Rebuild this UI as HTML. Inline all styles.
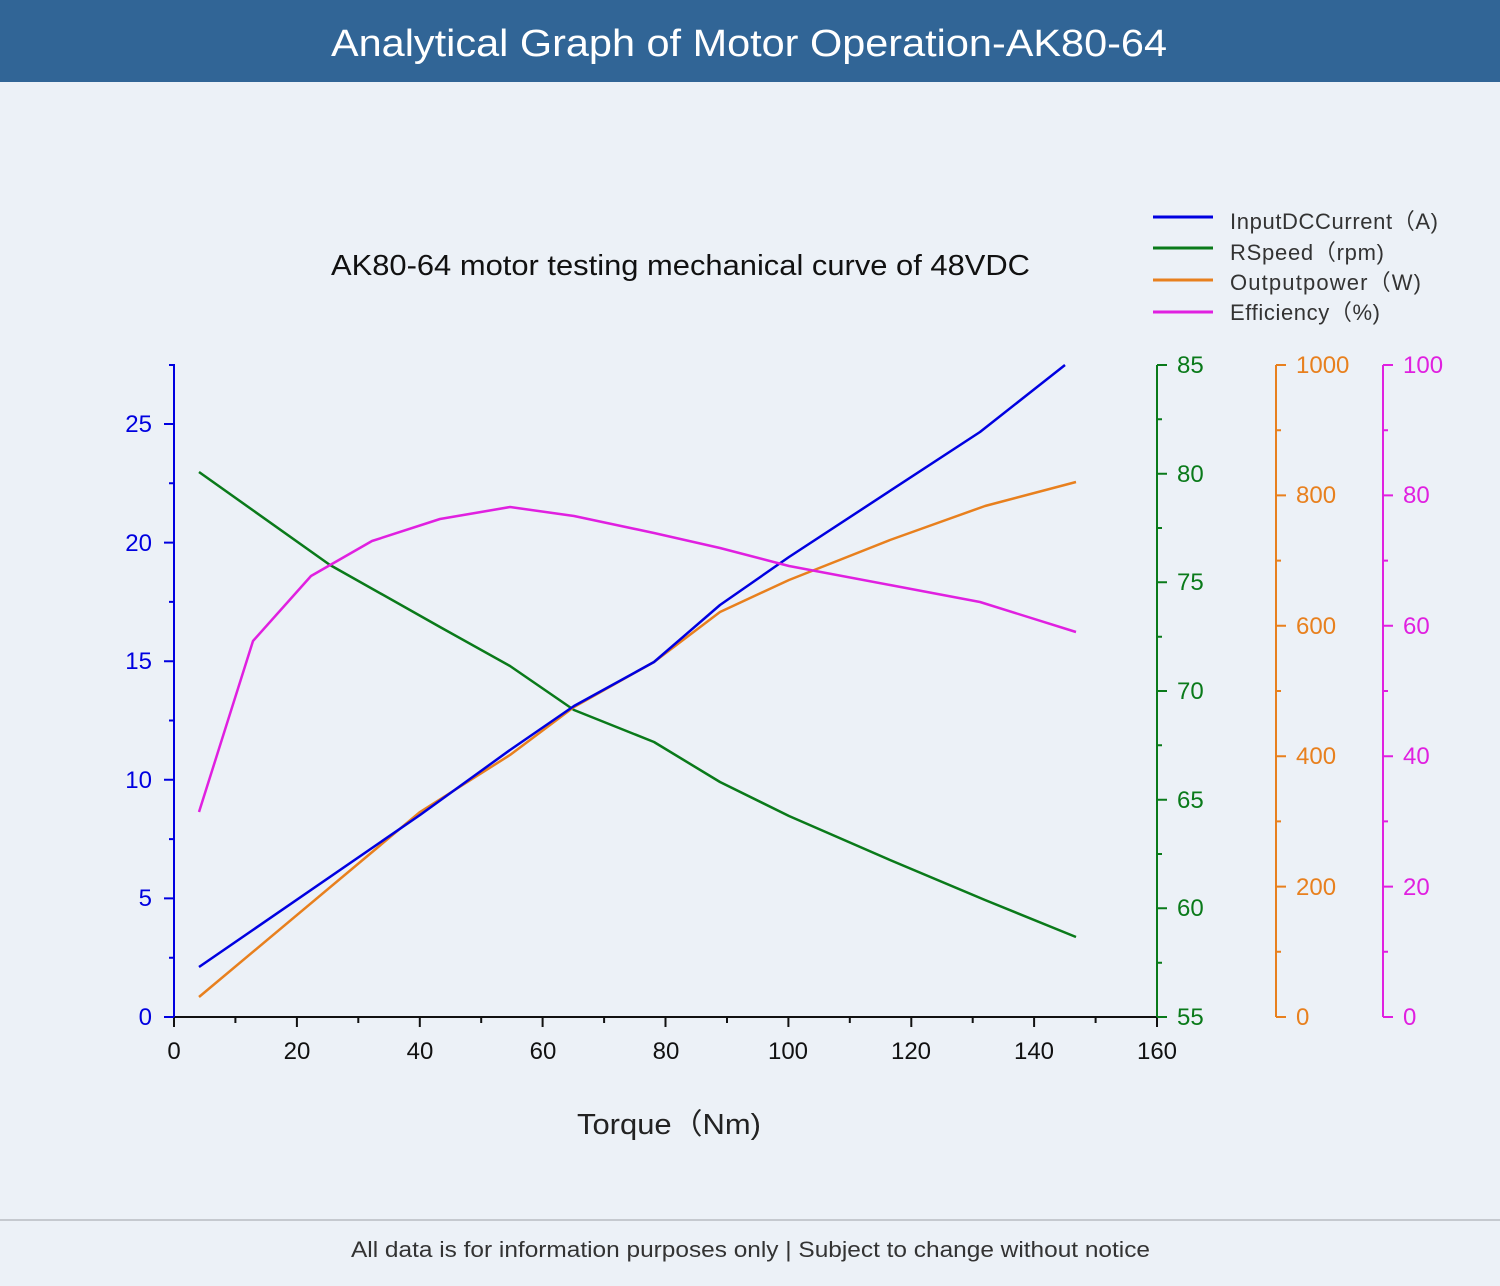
<!DOCTYPE html>
<html><head><meta charset="utf-8"><style>
html,body{margin:0;padding:0;width:1500px;height:1286px;background:#ecf1f7;overflow:hidden}
svg{display:block;font-family:"Liberation Sans","Noto Sans CJK SC",sans-serif}
</style></head><body>
<svg width="1500" height="1286" viewBox="0 0 1500 1286">
<rect x="0" y="0" width="1500" height="1286" fill="#ecf1f7"/>
<rect x="0" y="0" width="1500" height="82" fill="#316596"/>
<text x="331" y="56" font-size="38" fill="#fff" textLength="836" lengthAdjust="spacingAndGlyphs">Analytical Graph of Motor Operation-AK80-64</text>
<line x1="0" y1="1220" x2="1500" y2="1220" stroke="#b8bcc2" stroke-width="1.5"/>
<text x="351" y="1257" font-size="22" fill="#333" textLength="799" lengthAdjust="spacingAndGlyphs">All data is for information purposes only | Subject to change without notice</text>

<text x="331" y="275" font-size="29" fill="#111" textLength="699" lengthAdjust="spacingAndGlyphs">AK80-64 motor testing mechanical curve of 48VDC</text>
<text x="577" y="1134" font-size="29" fill="#222" textLength="184" lengthAdjust="spacingAndGlyphs">Torque（Nm)</text>

<!-- legend -->
<g stroke-width="3">
<line x1="1153" y1="217" x2="1213" y2="217" stroke="#0000e0"/>
<line x1="1153" y1="248" x2="1213" y2="248" stroke="#0a7a1a"/>
<line x1="1153" y1="280" x2="1213" y2="280" stroke="#e8801e"/>
<line x1="1153" y1="312" x2="1213" y2="312" stroke="#e020e0"/>
</g>
<g font-size="22" fill="#333" lengthAdjust="spacingAndGlyphs">
<text x="1230" y="229" textLength="208">InputDCCurrent（A)</text>
<text x="1230" y="260" textLength="154">RSpeed（rpm)</text>
<text x="1230" y="290" textLength="191">Outputpower（W)</text>
<text x="1230" y="320" textLength="150">Efficiency（%)</text>
</g>

<!-- X axis -->
<g stroke="#111" stroke-width="2">
<line x1="174" y1="1017" x2="1157" y2="1017"/>
<path d="M174 1017v10M296.9 1017v10M419.8 1017v10M542.6 1017v10M665.5 1017v10M788.4 1017v10M911.3 1017v10M1034.1 1017v10M1157 1017v10M235.4 1017v6M358.3 1017v6M481.2 1017v6M604.1 1017v6M727 1017v6M849.8 1017v6M972.7 1017v6M1095.6 1017v6"/>
</g>
<g font-size="24" fill="#111" text-anchor="middle">
<text x="174" y="1059">0</text><text x="297" y="1059">20</text><text x="420" y="1059">40</text><text x="543" y="1059">60</text><text x="666" y="1059">80</text><text x="788" y="1059">100</text><text x="911" y="1059">120</text><text x="1034" y="1059">140</text><text x="1157" y="1059">160</text>
</g>

<!-- left axis blue -->
<g stroke="#0000e0" stroke-width="2">
<line x1="174" y1="364" x2="174" y2="1017"/>
<path d="M174 1017h-10M174 898.4h-10M174 779.8h-10M174 661.2h-10M174 542.6h-10M174 424h-10M174 957.7h-5M174 839.1h-5M174 720.5h-5M174 601.9h-5M174 483.3h-5M174 365h-5"/>
</g>
<g font-size="24" fill="#0000e0" text-anchor="end">
<text x="152" y="1025">0</text><text x="152" y="906">5</text><text x="152" y="788">10</text><text x="152" y="669">15</text><text x="152" y="551">20</text><text x="152" y="432">25</text>
</g>

<!-- green axis -->
<g stroke="#0a7a1a" stroke-width="2">
<line x1="1157" y1="365" x2="1157" y2="1017"/>
<path d="M1157 1017h10M1157 908.3h10M1157 799.7h10M1157 691h10M1157 582.3h10M1157 473.7h10M1157 365h10M1157 962.7h5M1157 854h5M1157 745.3h5M1157 636.7h5M1157 528h5M1157 419.3h5"/>
</g>
<g font-size="24" fill="#0a7a1a">
<text x="1177" y="1025">55</text><text x="1177" y="916">60</text><text x="1177" y="808">65</text><text x="1177" y="699">70</text><text x="1177" y="590">75</text><text x="1177" y="482">80</text><text x="1177" y="373">85</text>
</g>

<!-- orange axis -->
<g stroke="#e8801e" stroke-width="2">
<line x1="1276" y1="365" x2="1276" y2="1017"/>
<path d="M1276 1017h10M1276 886.6h10M1276 756.2h10M1276 625.8h10M1276 495.4h10M1276 365h10M1276 951.8h5M1276 821.4h5M1276 691h5M1276 560.6h5M1276 430.2h5"/>
</g>
<g font-size="24" fill="#e8801e">
<text x="1296" y="1025">0</text><text x="1296" y="895">200</text><text x="1296" y="764">400</text><text x="1296" y="634">600</text><text x="1296" y="503">800</text><text x="1296" y="373">1000</text>
</g>

<!-- magenta axis -->
<g stroke="#e020e0" stroke-width="2">
<line x1="1383" y1="365" x2="1383" y2="1017"/>
<path d="M1383 1017h10M1383 886.6h10M1383 756.2h10M1383 625.8h10M1383 495.4h10M1383 365h10M1383 951.8h5M1383 821.4h5M1383 691h5M1383 560.6h5M1383 430.2h5"/>
</g>
<g font-size="24" fill="#e020e0">
<text x="1403" y="1025">0</text><text x="1403" y="895">20</text><text x="1403" y="764">40</text><text x="1403" y="634">60</text><text x="1403" y="503">80</text><text x="1403" y="373">100</text>
</g>

<!-- series -->
<g fill="none" stroke-width="2.5" stroke-linejoin="round">
<polyline stroke="#0a7a1a" points="199,472 330,565 440,627 510,666 574,710 654,742 720,782 789,816 890,860 985,900 1076,937"/>
<polyline stroke="#e8801e" points="199,997 420,812 510,755 574,707 654,662 720,612 789,580 890,540 985,506 1076,482"/>
<polyline stroke="#0000e0" points="199,967 420,815 510,750 574,706 654,662 720,605 789,557 980,432 1065,365"/>
<polyline stroke="#e020e0" points="199,812 253,641 311,576 372,541 440,519 510,507 574,516 654,533 720,548 789,566 890,585 980,602 1076,632"/>
</g>
</svg>
</body></html>
